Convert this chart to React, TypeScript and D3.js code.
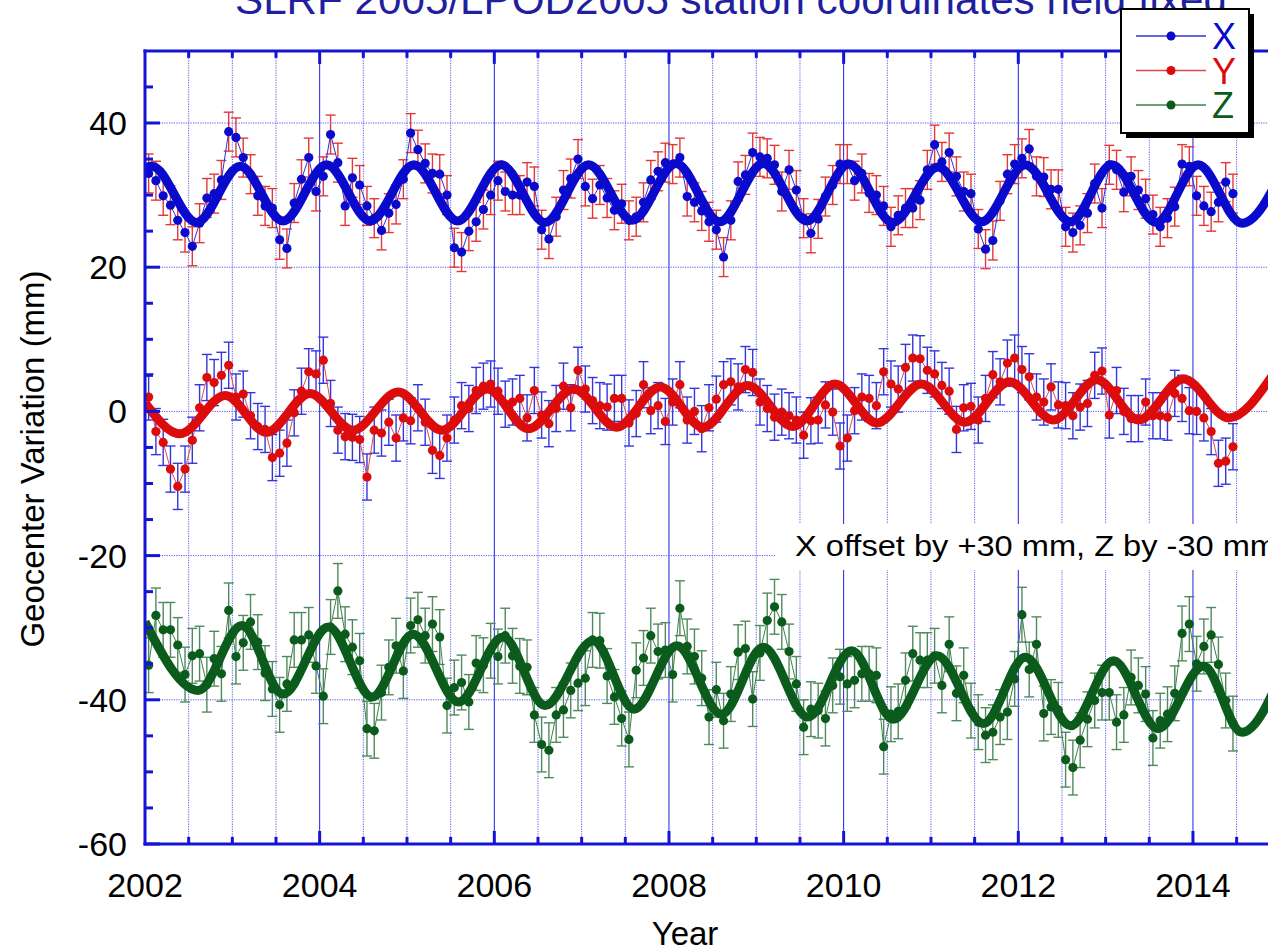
import React from 'react';
import * as d3 from 'd3';

// Monthly solutions starting January 2002
const startYear = 2002;
const xVals = [33.0,32.0,29.9,28.6,26.5,24.8,22.9,26.1,29.6,30.2,32.1,38.8,38.0,35.2,32.9,29.9,28.5,28.2,23.8,22.6,28.9,32.2,35.2,30.5,32.6,38.4,34.5,28.5,32.4,31.4,28.5,26.8,25.1,27.5,28.7,32.2,38.6,36.3,34.4,33.0,32.9,30.0,22.7,22.1,25.0,26.3,28.0,30.0,32.0,30.5,30.0,30.0,31.8,31.2,25.2,23.9,27.0,30.7,32.3,35.0,31.2,29.5,31.4,29.6,27.9,28.8,26.5,27.0,29.0,32.1,33.3,34.5,34.3,35.2,29.8,29.0,27.8,26.3,25.2,21.4,26.5,31.9,32.8,35.9,35.3,35.1,34.2,30.5,33.5,30.7,26.8,24.7,26.7,29.8,31.4,34.3,34.3,32.0,33.0,30.3,30.0,28.5,25.6,27.2,28.2,28.2,29.3,33.5,37.0,34.6,35.9,32.6,30.5,30.2,25.3,22.5,23.7,29.2,32.9,34.3,35.1,36.4,32.6,32.5,30.8,30.8,25.6,24.8,25.8,27.5,31.6,28.2,34.2,33.5,30.4,32.6,30.7,29.5,27.3,25.6,26.8,28.4,34.3,34.0,29.9,28.5,27.7,29.0,31.8,30.2];
const yVals = [2.0,-2.8,-4.3,-8.0,-10.4,-8.0,-4.0,0.5,4.7,4.0,5.0,6.4,2.0,2.4,-0.6,-2.1,-2.5,-6.4,-5.8,-4.4,-0.2,2.8,5.5,5.2,7.1,1.1,-2.6,-3.5,-3.6,-3.9,-9.1,-2.6,-3.0,-1.5,-3.7,-0.9,-1.3,0.5,-1.5,-5.4,-6.1,-3.7,-1.2,0.8,0.4,2.9,3.5,3.8,2.8,1.0,1.3,1.8,-0.9,2.9,-0.5,-1.7,0.4,3.5,0.5,5.7,3.1,1.5,0.8,0.6,1.8,1.8,-1.6,-0.3,3.7,0.1,0.8,-1.4,1.3,3.7,-1.2,0.0,-2.4,0.5,1.7,3.7,4.1,3.4,5.8,5.4,1.3,0.4,-0.8,-0.1,-0.6,-1.2,-3.3,-1.3,-1.2,0.9,-0.1,-4.8,-3.7,0.1,2.0,1.8,0.8,5.5,3.8,3.1,6.1,7.4,7.3,5.7,5.2,3.6,2.8,-2.5,0.5,0.7,-1.2,1.8,5.1,4.1,6.7,7.4,5.8,4.8,2.0,1.3,3.4,0.9,0.8,-0.6,0.6,1.1,5.0,5.6,-0.5,2.9,0.0,-1.0,-1.0,1.3,-0.6,-0.6,-0.8,2.5,1.8,0.1,0.0,-0.9,-2.8,-7.2,-6.9,-4.9];
const zVals = [-35.2,-28.3,-30.3,-30.3,-32.4,-36.5,-33.9,-33.6,-37.9,-34.3,-36.4,-27.6,-34.0,-32.1,-29.2,-32.0,-36.3,-38.5,-40.7,-37.8,-31.7,-31.7,-31.0,-35.3,-39.5,-29.9,-24.9,-30.9,-32.7,-34.6,-44.0,-44.3,-39.0,-35.5,-32.5,-36.0,-29.7,-28.9,-31.1,-29.5,-31.3,-40.8,-38.3,-37.6,-40.3,-34.9,-35.2,-33.2,-34.0,-31.1,-33.9,-35.3,-35.5,-42.1,-46.2,-47.0,-42.1,-41.4,-38.7,-37.7,-37.0,-31.7,-31.8,-36.7,-39.6,-42.6,-45.5,-35.9,-34.2,-31.1,-33.3,-33.1,-36.5,-27.3,-32.6,-34.0,-37.0,-42.4,-38.6,-42.9,-39.2,-33.4,-32.9,-39.9,-33.5,-29.0,-27.1,-29.2,-33.3,-37.8,-43.8,-41.3,-41.5,-42.6,-38.0,-36.8,-37.8,-37.3,-36.4,-36.4,-36.6,-46.5,-42.0,-41.6,-37.3,-33.6,-34.5,-34.5,-33.9,-38.0,-32.3,-39.1,-36.6,-41.5,-43.1,-44.9,-44.5,-42.4,-41.7,-37.1,-28.2,-35.8,-32.3,-41.9,-41.0,-41.4,-48.3,-49.4,-45.6,-42.7,-40.1,-39.0,-39.0,-43.1,-42.1,-36.9,-38.0,-39.2,-45.3,-42.9,-42.0,-39.1,-30.8,-29.5,-35.0,-32.6,-31.0,-35.1,-40.1,-43.3];
const xErr = 2.7;
const yErr = 3.2;
const zErr = 3.8;

// Fitted annual model (turning points)
const fitXT = [2002.0,2002.08,2002.59,2003.09,2003.58,2004.08,2004.58,2005.08,2005.58,2006.08,2006.58,2007.08,2007.58,2008.08,2008.58,2009.08,2009.58,2010.06,2010.56,2011.08,2011.58,2012.08,2012.6,2013.07,2013.58,2014.06,2014.56,2015.05];
const fitXV = [33.8,34.0,26.2,34.0,26.4,34.2,26.4,34.2,26.4,34.2,26.2,34.2,26.5,34.4,26.3,34.4,26.4,34.3,26.2,33.9,26.3,34.2,26.3,34.2,26.2,34.2,26.1,34.0];
const fitYT = [2002.0,2002.4,2002.92,2003.39,2003.89,2004.38,2004.9,2005.4,2005.92,2006.39,2006.91,2007.4,2007.9,2008.39,2008.9,2009.42,2009.9,2010.38,2010.89,2011.39,2011.9,2012.4,2012.9,2013.38,2013.89,2014.41,2014.9];
const fitYV = [1.2,-3.1,2.2,-2.9,2.5,-2.6,2.7,-2.6,3.1,-2.4,3.1,-2.2,3.4,-2.2,3.6,-2.1,3.8,-1.6,3.8,-1.5,4.1,-1.2,4.4,-1.2,4.5,-0.9,4.8];
const fitZT = [2002.0,2002.61,2003.11,2003.58,2004.1,2004.6,2005.07,2005.59,2006.1,2006.58,2007.13,2007.6,2008.09,2008.6,2009.08,2009.59,2010.09,2010.57,2011.07,2011.6,2012.08,2012.6,2013.09,2013.6,2014.12,2014.56,2015.04];
const fitZV = [-29.2,-38.7,-29.7,-39.2,-29.9,-39.6,-30.9,-40.3,-31.3,-40.8,-31.8,-41.3,-32.5,-42.0,-32.7,-42.4,-33.2,-42.7,-33.9,-43.3,-34.1,-43.6,-34.6,-44.0,-35.3,-44.5,-35.6];

const xTickLabels = ['2002','2004','2006','2008','2010','2012','2014','2016'];
const yTickLabels = ['-60','-40','-20','0','20','40'];
const legendLabels = ['X','Y','Z'];

const W = 1268, H = 950;
const FONT = 'Liberation Sans, Arial, Helvetica, sans-serif';
const AXIS = '#1414d6';

const xs = d3.scaleLinear().domain([2002, 2016]).range([145, 145 + 14 * 87.33]);
const ys = d3.scaleLinear().domain([-60, 50]).range([844, 844 - 110 * 7.21]);

const series = [
  { name: 'X', vals: xVals, err: xErr, color: '#0a0acc', line: '#3030dd', bar: '#e23838', fitT: fitXT, fitV: fitXV },
  { name: 'Y', vals: yVals, err: yErr, color: '#dc0c0c', line: '#e04848', bar: '#3535dd', fitT: fitYT, fitV: fitYV },
  { name: 'Z', vals: zVals, err: zErr, color: '#0b5c1c', line: '#3f7f4c', bar: '#4f8a5c', fitT: fitZT, fitV: fitZV },
];

function tOf(i: number) { return startYear + (i + 0.5) / 12; }

export default function App() {
  const halfYears = d3.range(2002.5, 2016.01, 0.5);
  const minorY = d3.range(-55, 50, 5).filter(v => v % 20 !== 0);
  const majorY = [-60, -40, -20, 0, 20, 40];
  const gridY = [-40, -20, 0, 20, 40];
  const dataLine = d3.line<number>().x((_, i) => xs(tOf(i))).y(v => ys(v));
  const top = ys(50);
  return (
    <svg width={W} height={H} style={{ position: 'absolute', left: 0, top: 0, background: '#fff' }} fontFamily={FONT}>
      <defs>
        <clipPath id="plot"><rect x={145} y={top} width={1400} height={844 - top} /></clipPath>
      </defs>
      <rect x={0} y={0} width={W} height={H} fill="#fff" />
      {/* grid */}
      <g>
        {halfYears.map(t => {
          const major = Math.abs(t % 2) < 1e-6;
          return <line key={'vg' + t} x1={xs(t)} x2={xs(t)} y1={top} y2={844}
            stroke={major ? '#2020dd' : '#5a5aee'} strokeWidth={1}
            strokeDasharray={major ? undefined : '1.2,1.2'} />;
        })}
        {gridY.map(v => (
          <line key={'hg' + v} x1={145} x2={W} y1={ys(v)} y2={ys(v)} stroke="#5a5aee" strokeWidth={1} strokeDasharray="1.2,1.2" />
        ))}
      </g>
      {/* annotation box */}
      <rect x={776} y={524} width={600} height={46} fill="#fff" />
      <text x={795} y={556} fontSize={30} fill="#000" textLength={482} lengthAdjust="spacingAndGlyphs">X offset by +30 mm, Z by -30 mm</text>
      {/* series */}
      <g clipPath="url(#plot)">
        {series.map(s => {
          const fitLine = d3.line<number>().x((_, i) => xs(s.fitT[i])).y(v => ys(v)).curve(d3.curveMonotoneX);
          return (
            <g key={s.name}>
              {s.vals.map((v, i) => {
                const cx = xs(tOf(i));
                const y1 = ys(v + s.err), y2 = ys(v - s.err);
                return (
                  <g key={i} stroke={s.bar} strokeWidth={1.4}>
                    <line x1={cx} x2={cx} y1={y1} y2={y2} />
                    <line x1={cx - 5} x2={cx + 5} y1={y1} y2={y1} />
                    <line x1={cx - 5} x2={cx + 5} y1={y2} y2={y2} />
                  </g>
                );
              })}
              <path d={dataLine(s.vals) || ''} fill="none" stroke={s.line} strokeWidth={1} />
              {s.vals.map((v, i) => (
                <circle key={'c' + i} cx={xs(tOf(i))} cy={ys(v)} r={4.6} fill={s.color} />
              ))}
              <path d={fitLine(s.fitV) || ''} fill="none" stroke={s.color} strokeWidth={9} strokeLinejoin="round" />
            </g>
          );
        })}
      </g>
      {/* axes frame */}
      <g stroke={AXIS}>
        <line x1={145} x2={145} y1={top - 1.5} y2={845.5} strokeWidth={3} />
        <line x1={143.5} x2={W} y1={844} y2={844} strokeWidth={3} />
        <line x1={143.5} x2={W} y1={top} y2={top} strokeWidth={3} />
        {halfYears.map(t => {
          const major = Math.abs(t % 2) < 1e-6;
          const len = major ? 13 : 7;
          return (
            <g key={'xt' + t}>
              <line x1={xs(t)} x2={xs(t)} y1={844} y2={844 - len} strokeWidth={3} />
              <line x1={xs(t)} x2={xs(t)} y1={top} y2={top + len} strokeWidth={3} />
            </g>
          );
        })}
        {minorY.map(v => <line key={'ym' + v} x1={145} x2={153} y1={ys(v)} y2={ys(v)} strokeWidth={3} />)}
        {majorY.map(v => <line key={'yM' + v} x1={145} x2={160} y1={ys(v)} y2={ys(v)} strokeWidth={3} />)}
      </g>
      {/* tick labels */}
      {xTickLabels.map(l => (
        <text key={'xl' + l} x={xs(+l)} y={897} fontSize={34} textAnchor="middle" fill="#000">{l}</text>
      ))}
      {yTickLabels.map(l => (
        <text key={'yl' + l} x={127} y={ys(+l) + 12} fontSize={34} textAnchor="end" fill="#000">{l}</text>
      ))}
      <text x={685} y={945} fontSize={33} textAnchor="middle" fill="#000">Year</text>
      <text transform="translate(44,459) rotate(-90)" fontSize={33} textAnchor="middle" fill="#000">Geocenter Variation (mm)</text>
      <text x={731} y={14} fontSize={42} textAnchor="middle" fill="#1f1fa0" textLength={992} lengthAdjust="spacingAndGlyphs">SLRF 2005/LPOD2005 station coordinates held fixed</text>
      {/* legend */}
      <rect x={1126} y={14} width={128} height={124} fill="#000" />
      <rect x={1121} y={9} width={128} height={124} fill="#fff" stroke="#000" strokeWidth={2} />
      {series.map((s, k) => {
        const ly = 36 + k * 34.5;
        return (
          <g key={'lg' + s.name}>
            <line x1={1136} x2={1206} y1={ly} y2={ly} stroke={s.line} strokeWidth={1.5} />
            <circle cx={1171} cy={ly} r={4.5} fill={s.color} />
            <text x={1212} y={ly + 13} fontSize={36} fill={s.color}>{legendLabels[k]}</text>
          </g>
        );
      })}
    </svg>
  );
}
